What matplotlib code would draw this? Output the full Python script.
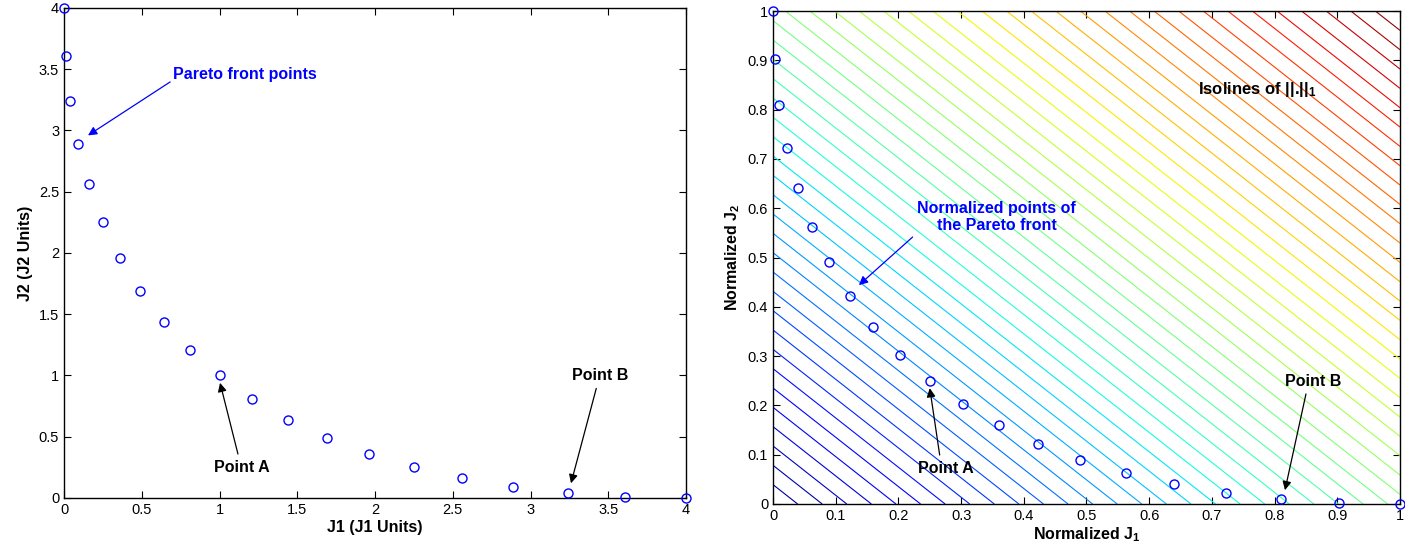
import numpy as np
import matplotlib
matplotlib.use("Agg")
import matplotlib.pyplot as plt

plt.rcParams['font.family'] = ['Liberation Sans', 'DejaVu Sans']
plt.rcParams['mathtext.fontset'] = 'custom'
plt.rcParams['mathtext.rm'] = 'Liberation Sans:bold'
plt.rcParams['mathtext.bf'] = 'Liberation Sans:bold'
plt.rcParams['mathtext.it'] = 'Liberation Sans:bold'

# Pareto front points (J1, J2)
j1 = [0, 0.01, 0.04, 0.09, 0.16, 0.25, 0.36, 0.49, 0.64, 0.81, 1.0,
      1.21, 1.44, 1.69, 1.96, 2.25, 2.56, 2.89, 3.24, 3.61, 4.0]
j2 = [4.0, 3.61, 3.24, 2.89, 2.56, 2.25, 1.96, 1.69, 1.44, 1.21, 1.0,
      0.81, 0.64, 0.49, 0.36, 0.25, 0.16, 0.09, 0.04, 0.01, 0]

# normalized points
n1 = [0, 0.0025, 0.01, 0.0225, 0.04, 0.0625, 0.09, 0.1225, 0.16, 0.2025, 0.25,
      0.3025, 0.36, 0.4225, 0.49, 0.5625, 0.64, 0.7225, 0.81, 0.9025, 1.0]
n2 = [1.0, 0.9025, 0.81, 0.7225, 0.64, 0.5625, 0.49, 0.4225, 0.36, 0.3025, 0.25,
      0.2025, 0.16, 0.1225, 0.09, 0.0625, 0.04, 0.0225, 0.01, 0.0025, 0]

left_ticks = [0, 0.5, 1, 1.5, 2, 2.5, 3, 3.5, 4]
left_labels = ['0', '0.5', '1', '1.5', '2', '2.5', '3', '3.5', '4']
right_ticks = [0, 0.1, 0.2, 0.3, 0.4, 0.5, 0.6, 0.7, 0.8, 0.9, 1]
right_labels = ['0', '0.1', '0.2', '0.3', '0.4', '0.5', '0.6', '0.7', '0.8', '0.9', '1']

fig = plt.figure(figsize=(14.05, 5.51), dpi=100)
ax1 = fig.add_axes([0.0456, 0.0962, 0.4427, 0.8893])
ax2 = fig.add_axes([0.5502, 0.0853, 0.4462, 0.8947])

for ax in (ax1, ax2):
    ax.tick_params(direction='in', top=True, right=True, labelsize=10.5, length=5, width=0.8)
    for s in ax.spines.values():
        s.set_linewidth(1.0)

# ---- left plot
ax1.plot(j1, j2, 'o', mfc='none', mec='blue', ms=6.5, mew=1.0, clip_on=False, zorder=5)
ax1.set_xlim(0, 4)
ax1.set_ylim(0, 4)
ax1.set_xticks(left_ticks)
ax1.set_xticklabels(left_labels)
ax1.set_yticks(left_ticks)
ax1.set_yticklabels(left_labels)
ax1.set_xlabel('J1 (J1 Units)', fontsize=11.5, fontweight='bold', labelpad=2)
ax1.set_ylabel('J2 (J2 Units)', fontsize=11.5, fontweight='bold', labelpad=4)

ax1.annotate('Pareto front points', xy=(0.154, 2.96), xytext=(0.70, 3.46),
             color='blue', fontsize=11.5, fontweight='bold', va='center', ha='left',
             arrowprops=dict(arrowstyle='-|>', color='blue', lw=0.9, mutation_scale=13,
                             shrinkA=0, shrinkB=0, relpos=(0, 0.1)))
ax1.annotate('Point A', xy=(1.003, 0.94), xytext=(1.145, 0.253),
             fontsize=11.5, fontweight='bold', ha='center', va='center',
             arrowprops=dict(arrowstyle='-|>', color='black', lw=0.9, mutation_scale=13,
                             shrinkA=2, shrinkB=0, relpos=(0.45, 1.0)))
ax1.annotate('Point B', xy=(3.26, 0.12), xytext=(3.45, 1.0),
             fontsize=11.5, fontweight='bold', ha='center', va='center',
             arrowprops=dict(arrowstyle='-|>', color='black', lw=0.9, mutation_scale=13,
                             shrinkA=2, shrinkB=0, relpos=(0.45, 0.0)))

# ---- right plot: isolines of the 1-norm
g = np.linspace(0, 1, 201)
X, Y = np.meshgrid(g, g)
Z = np.abs(X) + np.abs(Y)
levels = np.linspace(0, 2, 52)[1:-1]
ax2.contour(X, Y, Z, levels=levels, cmap='jet', vmin=0, vmax=2, linewidths=0.8)

ax2.plot(n1, n2, 'o', mfc='none', mec='blue', ms=6.5, mew=1.0, clip_on=False, zorder=5)
ax2.set_xlim(0, 1)
ax2.set_ylim(0, 1)
ax2.set_xticks(right_ticks)
ax2.set_xticklabels(right_labels)
ax2.set_yticks(right_ticks)
ax2.set_yticklabels(right_labels)
ax2.set_xlabel(r'Normalized J$_1$', fontsize=11.5, fontweight='bold', labelpad=2)
ax2.set_ylabel(r'Normalized J$_2$', fontsize=11.5, fontweight='bold', labelpad=4)

ax2.text(0.773, 0.8418, r'Isolines of ||.||$_1$', fontsize=12, fontweight='bold',
         ha='center', va='center')
ax2.annotate('Normalized points of\nthe Pareto front', xy=(0.137, 0.444), xytext=(0.357, 0.582),
             color='blue', fontsize=11.5, fontweight='bold', ha='center', va='center',
             linespacing=1.1,
             arrowprops=dict(arrowstyle='-|>', color='blue', lw=0.9, mutation_scale=13,
                             shrinkA=2, shrinkB=0, relpos=(0.0, 0.0)))
ax2.annotate('Point A', xy=(0.250, 0.235), xytext=(0.276, 0.073),
             fontsize=11.5, fontweight='bold', ha='center', va='center',
             arrowprops=dict(arrowstyle='-|>', color='black', lw=0.9, mutation_scale=13,
                             shrinkA=2, shrinkB=0, relpos=(0.4, 1.0)))
ax2.annotate('Point B', xy=(0.8166, 0.028), xytext=(0.861, 0.2495),
             fontsize=11.5, fontweight='bold', ha='center', va='center',
             arrowprops=dict(arrowstyle='-|>', color='black', lw=0.9, mutation_scale=13,
                             shrinkA=2, shrinkB=0, relpos=(0.4, 0.0)))

fig.savefig('out.png', dpi=100)
